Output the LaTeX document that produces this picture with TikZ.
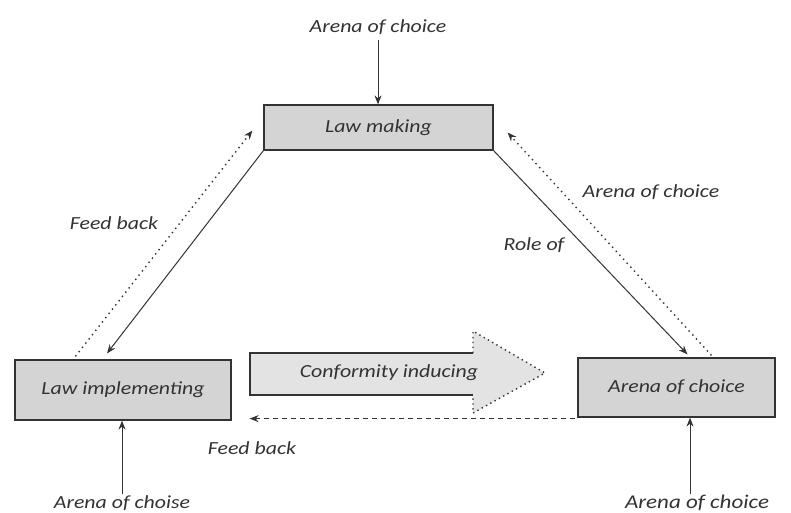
\documentclass[tikz,border=0pt]{standalone}
\usepackage{fontspec}
\setmainfont{Carlito}[FakeStretch=1.18]
\usetikzlibrary{arrows.meta,calc}
\definecolor{ink}{HTML}{333333}
\definecolor{boxfill}{HTML}{D4D4D4}
\tikzset{
  lbl/.style={font=\itshape\fontsize{18.5}{20}\selectfont, text=ink, inner sep=1pt},
  boxnode/.style={draw=ink, line width=1.2pt, fill=boxfill, font=\itshape\fontsize{18.5}{20}\selectfont, text=ink, inner sep=0pt},
  solidarrow/.style={draw=ink, line width=1pt, -{Stealth[length=9pt,width=7pt]}},
  dotarrow/.style={draw=ink, line width=1.4pt, dash pattern=on 1.4pt off 4pt, -{Stealth[length=9pt,width=7pt]}},
  dasharrow/.style={draw=ink, line width=1pt, dash pattern=on 5pt off 4pt, -{Stealth[length=9pt,width=7pt]}}
}
\begin{document}
\begin{tikzpicture}[x=1pt,y=-1pt]
\useasboundingbox (0,0) rectangle (791,512);
\fill[white] (0,0) rectangle (791,512);

% boxes
\node[boxnode, minimum width=229pt, minimum height=45pt] (lm) at (378.5,127.5) {Law making};
\node[boxnode, minimum width=216pt, minimum height=60pt] (li) at (123,390) {Law implementing};
\node[boxnode, minimum width=197pt, minimum height=59pt] (ac) at (676.5,387.5) {Arena of choice};

% labels
\node[lbl] (topl) at (378,27) {Arena of choice};
\node[lbl] (fbl) at (114,223) {Feed back};
\node[lbl] (acr) at (651,192) {Arena of choice};
\node[lbl] (role) at (534,245) {Role of};
\node[lbl] (fbb) at (252,448) {Feed back};
\node[lbl] (bl) at (122,503) {Arena of choise};
\node[lbl, font=\itshape\fontsize{19.5}{21}\selectfont] (br) at (697,503) {Arena of choice};

% conformity inducing arrow
\fill[boxfill!65] (250,353) -- (473,353) -- (473,331) -- (545,373) -- (473,413) -- (473,395) -- (250,395) -- cycle;
\draw[ink, line width=1.2pt] (473,353) -- (250,353) -- (250,395) -- (473,395);
\draw[ink, line width=1.4pt, dash pattern=on 1.4pt off 3.5pt] (473,353) -- (473,331) -- (545,373) -- (473,413) -- (473,395);
\node[lbl] (conf) at (389,373) {Conformity inducing};

% connectors
\draw[solidarrow] (topl.south) ++(0,4) coordinate (ta) (ta) -- (lm.north -| ta);
\draw[solidarrow] (lm.south west) -- ($(li.north)+(-16,-6)$);
\draw[dotarrow] ($(li.north west)+(61,-3)$) -- ($(lm.west)+(-11,3)$);
\draw[solidarrow] (lm.south east) -- ($(ac.north)+(11,-3)$);
\draw[dotarrow] ($(ac.north)+(35,-2)$) -- ($(lm.east)+(14,5)$);
\draw[dasharrow] ($(ac.south west)+(-2,1)$) -- ($(li.south east)+(18,-2)$);
\draw[solidarrow] (bl.north) -- (li.south -| bl.north);
\draw[solidarrow] (br.north -| ac.south) ++(13.5,0) coordinate (bra) (bra) -- (ac.south -| bra);
\end{tikzpicture}
\end{document}
